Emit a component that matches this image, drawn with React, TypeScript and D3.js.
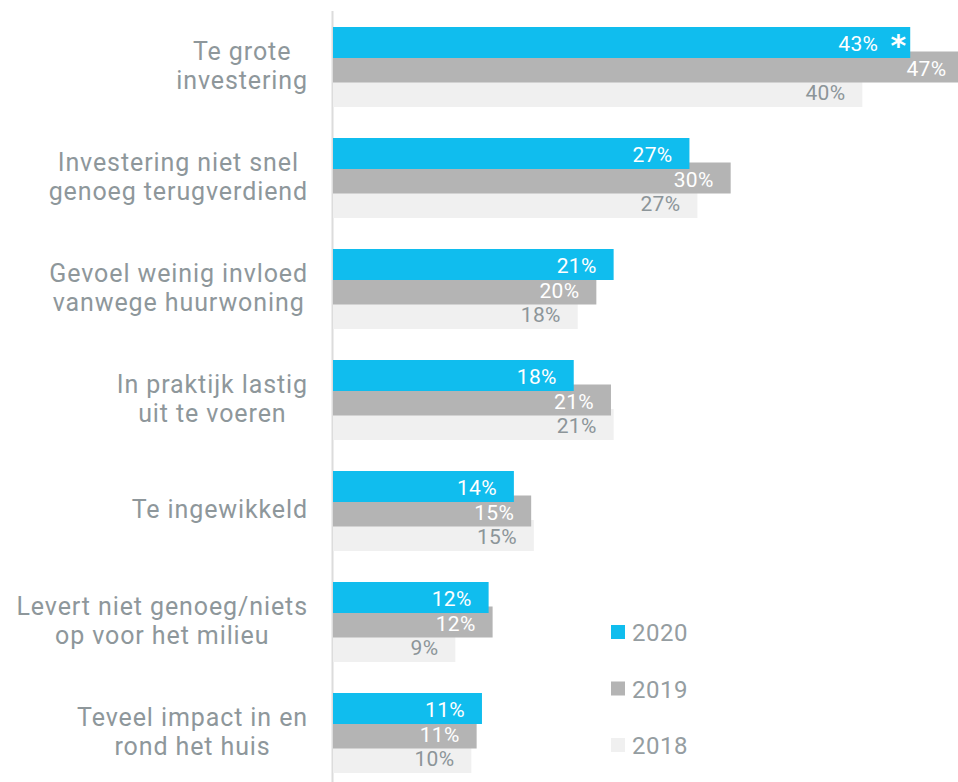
import React, { useEffect, useRef } from "react";
import * as d3 from "d3";

const categoryLines: string[][] = [
  ["Te grote", "investering"],
  ["Investering niet snel", "genoeg terugverdiend"],
  ["Gevoel weinig invloed", "vanwege huurwoning"],
  ["In praktijk lastig", "uit te voeren"],
  ["Te ingewikkeld"],
  ["Levert niet genoeg/niets", "op voor het milieu"],
  ["Teveel impact in en", "rond het huis"],
];
const categories = categoryLines.map((l) => l.join(" "));
const seriesNames = ["2020", "2019", "2018"];
const values2020 = [43.4, 26.8, 21.1, 18.1, 13.6, 11.7, 11.2];
const values2019 = [47.4, 29.9, 19.8, 20.9, 14.9, 12.0, 10.8];
const values2018 = [39.8, 27.4, 18.4, 21.1, 15.1, 9.2, 10.4];
const seriesValues = [values2020, values2019, values2018];
const significant2020 = [true, false, false, false, false, false, false];

const colors = ["#10bdee", "#b4b4b4", "#f0f0f0"];
const labelColors = ["#ffffff", "#ffffff", "#8c9599"];
const textGray = "#8e979b";
const FONT = "Roboto, sans-serif";

export default function App() {
  const ref = useRef<SVGSVGElement | null>(null);

  useEffect(() => {
    const svg = d3.select(ref.current);
    svg.selectAll("*").remove();

    const x0 = 333;
    const x = d3.scaleLinear().domain([0, 50]).range([x0, x0 + 50 * 13.3]);
    const y = d3
      .scaleBand<string>()
      .domain(categories)
      .range([27, 27 + 111 * categories.length])
      .padding(0);
    const off = d3.scalePoint<string>().domain(seriesNames).range([0, 49]);
    const barH = 31;

    // axis line
    svg
      .append("line")
      .attr("x1", x0 - 0.5)
      .attr("x2", x0 - 0.5)
      .attr("y1", 11)
      .attr("y2", 782)
      .attr("stroke", "#dcdcdc")
      .attr("stroke-width", 2);

    // bars: draw 2018 first, 2020 on top
    const order = [2, 1, 0];
    order.forEach((s) => {
      const g = svg.append("g");
      g.selectAll("rect")
        .data(seriesValues[s])
        .join("rect")
        .attr("x", x0)
        .attr("y", (_, i) => (y(categories[i]) as number) + (off(seriesNames[s]) as number))
        .attr("width", (d) => x(d) - x0)
        .attr("height", barH)
        .attr("fill", colors[s]);
    });

    // labels
    order.forEach((s) => {
      const g = svg.append("g");
      g.selectAll("text.val")
        .data(seriesValues[s])
        .join("text")
        .attr("class", "val")
        .attr("x", (d, i) => x(d) - (s === 0 && significant2020[i] ? 32 : 17))
        .attr("y", (_, i) => (y(categories[i]) as number) + (off(seriesNames[s]) as number) + 24)
        .attr("text-anchor", "end")
        .attr("font-family", FONT)
        .attr("font-size", 21)
        .attr("letter-spacing", 0.3)
        .attr("fill", labelColors[s])
        .text((d) => `${Math.round(d)}%`);
      if (s === 0) {
        const idx = significant2020.map((v, i) => (v ? i : -1)).filter((i) => i >= 0);
        g.selectAll("text.star")
          .data(idx)
          .join("text")
          .attr("class", "star")
          .attr("x", (i) => x(seriesValues[s][i]) - 4)
          .attr("y", (i) => (y(categories[i]) as number) + 29)
          .attr("text-anchor", "end")
          .attr("font-family", "'DejaVu Sans', sans-serif")
          .attr("font-weight", "bold")
          .attr("font-size", 30)
          .attr("fill", "#ffffff")
          .text("*");
      }
    });

    // category labels: block right-aligned at 308, lines centred within block
    const catG = svg.append("g");
    categoryLines.forEach((lines, i) => {
      const top = y(categories[i]) as number;
      const t = catG
        .append("text")
        .attr("text-anchor", "middle")
        .attr("font-family", FONT)
        .attr("font-size", 25)
        .attr("letter-spacing", 0.9)
        .attr("fill", textGray);
      const spans = lines.map((line, j) =>
        t
          .append("tspan")
          .attr("y", top + 47 + (j - (lines.length - 1) / 2) * 29)
          .text(line)
      );
      const maxW =
        d3.max(spans, (sp) => (sp.node() as SVGTextContentElement).getComputedTextLength()) || 0;
      spans.forEach((sp) => sp.attr("x", 308 - maxW / 2));
    });

    // legend
    const legendY = d3.scalePoint<string>().domain(seriesNames).range([632, 745]);
    const lg = svg.append("g");
    seriesNames.forEach((name, s) => {
      const cy = legendY(name) as number;
      lg.append("rect")
        .attr("x", 611)
        .attr("y", cy - 7)
        .attr("width", 14)
        .attr("height", 14)
        .attr("fill", colors[s]);
      lg.append("text")
        .attr("x", 632)
        .attr("y", cy + 9)
        .attr("font-family", FONT)
        .attr("font-size", 24)
        .attr("letter-spacing", 0.5)
        .attr("fill", "#959da1")
        .text(name);
    });
  }, []);

  return (
    <svg
      ref={ref}
      width={958}
      height={782}
      style={{ position: "absolute", left: 0, top: 0, background: "#ffffff" }}
    />
  );
}
